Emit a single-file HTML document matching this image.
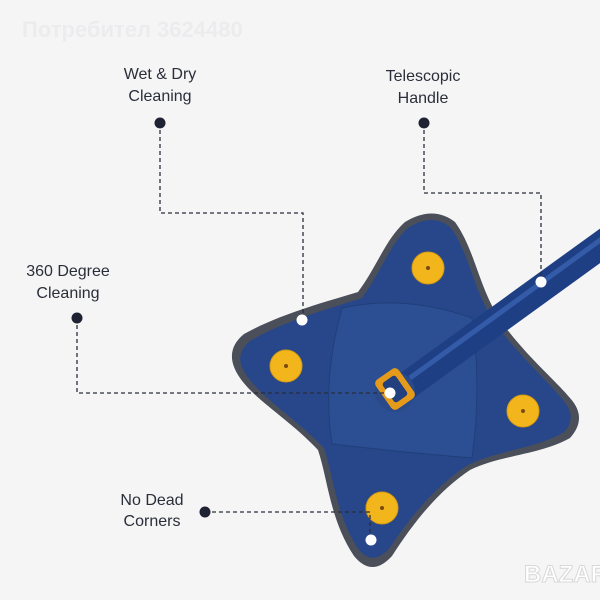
<!DOCTYPE html>
<html><head><style>
html,body{margin:0;padding:0;background:#f4f4f4;}
svg{display:block}
text{font-family:"Liberation Sans",sans-serif;}
</style></head><body>
<svg width="600" height="600" viewBox="0 0 600 600" xmlns="http://www.w3.org/2000/svg">
<rect width="600" height="600" fill="#f5f5f5"/>
<text x="22" y="37" font-size="22" font-weight="bold" fill="#ececee">Потребител 3624480</text>
<!-- mop -->
<path d="M405 222 Q433 205 455 222 C475 250 478 285 500 320 C525 355 555 380 570 398 Q588 418 570 438 C540 455 500 455 470 470 C440 490 415 520 392 556 Q372 578 354 556 C330 520 328 480 318 450 C290 420 255 400 240 378 Q222 352 244 334 C280 314 325 302 358 292 C378 265 385 240 405 222 Z" fill="#4b4f59"/>
<path d="M408 228 Q433 212 451 228 C470 255 473 290 495 323 C520 357 549 382 563 400 Q578 418 564 432 C536 449 498 450 468 465 C438 484 412 514 389 549 Q372 566 359 550 C336 516 334 478 324 448 C295 418 262 398 247 376 Q232 356 250 341 C284 321 328 309 362 298 C382 270 390 244 408 228 Z" fill="#27478a"/>
<path d="M342 308 Q405 294 472 318 Q482 388 472 458 Q400 452 332 444 Q322 380 342 308 Z" fill="#2c4e92" stroke="#203f7a" stroke-width="1"/>
<g fill="#f2b51c" stroke="#d59a10" stroke-width="1">
<circle cx="428" cy="268" r="16"/><circle cx="286" cy="366" r="16"/><circle cx="523" cy="411" r="16"/><circle cx="382" cy="508" r="16"/>
</g>
<g fill="#7a4a10"><circle cx="428" cy="268" r="2"/><circle cx="286" cy="366" r="2"/><circle cx="523" cy="411" r="2"/><circle cx="382" cy="508" r="2"/></g>
<line x1="405" y1="387" x2="615" y2="235" stroke="#1f3f85" stroke-width="28" stroke-linecap="round"/>
<line x1="410" y1="378" x2="610" y2="233" stroke="#3a62b0" stroke-width="5" opacity="0.8"/>
<circle cx="395" cy="392" r="20" fill="#2a4a8a"/>
<rect x="381" y="371" width="28" height="36" rx="5" fill="#e59a1a" transform="rotate(-35 395 389)"/>
<rect x="387" y="377" width="16" height="24" rx="3" fill="#23407e" transform="rotate(-35 395 389)"/>
<g stroke="#2a2e3c" stroke-width="1.3" stroke-dasharray="4,3" fill="none">
<path d="M160 123 V213 H303 V320"/>
<path d="M424 123 V193 H541 V282"/>
<path d="M77 318 V393 H390"/>
<path d="M205 512 H370 V540"/>
</g>
<g fill="#fff"><circle cx="302" cy="320" r="5.5"/><circle cx="541" cy="282" r="5.5"/><circle cx="390" cy="393" r="5.5"/><circle cx="371" cy="540" r="5.5"/></g>
<g fill="#1e2233"><circle cx="160" cy="123" r="5.5"/><circle cx="424" cy="123" r="5.5"/><circle cx="77" cy="318" r="5.5"/><circle cx="205" cy="512" r="5.5"/></g>
<g font-size="16" fill="#2a2e3a" text-anchor="middle">
<text x="160" y="79">Wet &amp; Dry</text><text x="160" y="101">Cleaning</text>
<text x="423" y="81">Telescopic</text><text x="423" y="103">Handle</text>
<text x="68" y="276">360 Degree</text><text x="68" y="298">Cleaning</text>
<text x="152" y="505">No Dead</text><text x="152" y="526">Corners</text>
</g>
<text x="524" y="582" font-size="24" font-weight="bold" fill="#fff" stroke="#d8d8d8" stroke-width="1">BAZAR</text>
</svg>
</body></html>
